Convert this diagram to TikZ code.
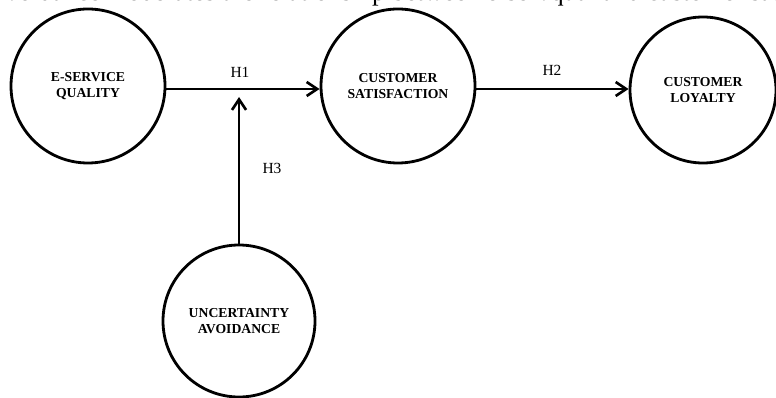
\documentclass[tikz,border=0pt]{standalone}
\usepackage{fontspec}
\setmainfont{Liberation Serif}
\usetikzlibrary{arrows.meta}

\tikzset{
  construct/.style={draw, circle, line width=1.6pt, align=center,
    font=\fontsize{7.8}{9}\selectfont\bfseries, inner sep=0pt},
  path/.style={line width=1.7pt, -{Straight Barb[length=6pt, width=8pt, line width=1.5pt]}},
  hyp/.style={font=\fontsize{8.8}{10}\selectfont}
}

\begin{document}
\begin{tikzpicture}[x=0.02cm, y=-0.02cm]
  \useasboundingbox (0,0) rectangle (776,398);
  % cut-off caption line at the top
  \begin{scope}
    \clip (0,0) rectangle (776,398);
    \node[anchor=base west, font=\fontsize{15}{17}\selectfont, inner sep=0pt] (caption) at (-12,0.8)
      {Avoidance moderates the relationship between e-servqual and customer satisfaction};
  \end{scope}
  % constructs
  \node[construct, minimum size=154*0.02cm] (esq) at (88,86) {E-SERVICE\\QUALITY};
  \node[construct, minimum size=154*0.02cm] (sat) at (398,86) {CUSTOMER\\SATISFACTION};
  \node[construct, minimum size=146*0.02cm] (loy) at (703,90) {CUSTOMER\\LOYALTY};
  \node[construct, minimum size=152*0.02cm] (ua) at (239,321) {UNCERTAINTY\\AVOIDANCE};
  % paths
  \coordinate (mod) at (239,97);
  \draw[path] (esq.east |- 0,89) -- (sat.west |- 0,89);
  \draw[path] (sat.east |- 0,89) -- (loy.west |- 0,89);
  \draw[path] (ua.north) -- (mod);
  % hypothesis labels
  \node[hyp] (h1) at (240,72) {H1};
  \node[hyp] (h2) at (552,70) {H2};
  \node[hyp] (h3) at (272,168) {H3};
\end{tikzpicture}
\end{document}
